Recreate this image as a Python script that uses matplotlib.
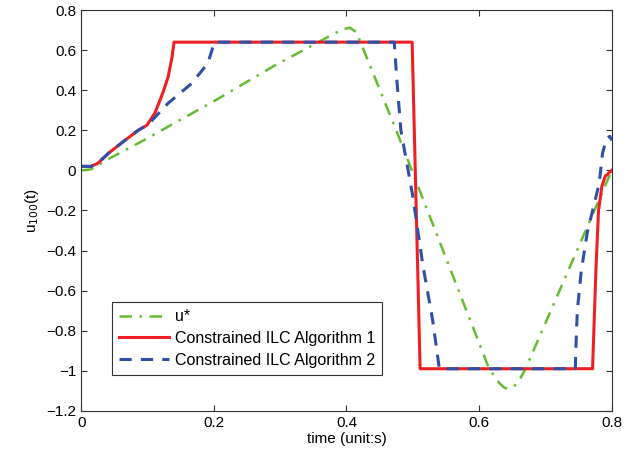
import numpy as np
import matplotlib
matplotlib.use("Agg")
from matplotlib import pyplot as plt

plt.rcParams['font.family'] = ['Liberation Sans', 'DejaVu Sans']

# u* (referencia)
t_ref = [0.0, 0.015, 0.04, 0.10, 0.14, 0.20, 0.29, 0.38, 0.395, 0.405, 0.415,
         0.475, 0.615, 0.63, 0.638, 0.645, 0.652, 0.66, 0.67, 0.80]
u_ref = [0.0, 0.005, 0.055, 0.16, 0.235, 0.345, 0.52, 0.68, 0.705, 0.712, 0.69,
         0.20, -0.99, -1.06, -1.085, -1.09, -1.08, -1.05, -0.99, 0.0]

# Algoritmo 1
t_alg1 = [0.0, 0.015, 0.025, 0.041, 0.066, 0.086, 0.099, 0.111, 0.123, 0.131, 0.137, 0.14,
          0.499, 0.511, 0.771, 0.776, 0.780, 0.785, 0.790, 0.800]
u_alg1 = [0.02, 0.02, 0.035, 0.085, 0.15, 0.20, 0.225, 0.285, 0.385, 0.465, 0.565, 0.64,
          0.64, -0.99, -0.99, -0.50, -0.20, -0.08, -0.03, 0.0]

# Algoritmo 2
t_alg2 = [0.0, 0.015, 0.025, 0.041, 0.066, 0.086, 0.099, 0.107, 0.131, 0.167, 0.191, 0.201,
          0.472, 0.476, 0.482, 0.50, 0.515, 0.53, 0.54,
          0.745, 0.746, 0.748, 0.754, 0.763, 0.781, 0.786, 0.792, 0.797, 0.80]
u_alg2 = [0.02, 0.02, 0.035, 0.085, 0.15, 0.20, 0.225, 0.25, 0.335, 0.435, 0.535, 0.64,
          0.64, 0.45, 0.20, -0.13, -0.47, -0.75, -0.99,
          -0.99, -0.87, -0.70, -0.50, -0.31, -0.065, 0.085, 0.16, 0.17, 0.15]

fig = plt.figure(figsize=(6.34, 4.59), dpi=100)
ax = fig.add_axes([0.128, 0.105, 0.837, 0.873])

ax.plot(t_ref, u_ref, color='#66bb33', linewidth=1.8, dashes=(5, 3, 1, 3), label='u*')
ax.plot(t_alg1, u_alg1, color='#ee2024', linewidth=2.2, label='Constrained ILC Algorithm 1')
ax.plot(t_alg2, u_alg2, color='#3050a8', linewidth=2.2, dashes=(4, 3), label='Constrained ILC Algorithm 2')

ax.set_xlim(0, 0.8)
ax.set_ylim(-1.2, 0.8)
ax.set_xticks([0, 0.2, 0.4, 0.6, 0.8])
ax.set_xticklabels(['0', '0.2', '0.4', '0.6', '0.8'])
ax.set_yticks(np.round(np.arange(-1.2, 0.81, 0.2), 1))
ax.set_yticklabels(['\u22121.2', '\u22121', '\u22120.8', '\u22120.6', '\u22120.4', '\u22120.2',
                    '0', '0.2', '0.4', '0.6', '0.8'])
ax.tick_params(direction='in', top=True, right=True, labelsize=11, length=4, color='#333333')
for s in ax.spines.values():
    s.set_color('#333333')

ax.set_xlabel('time (unit:s)', fontsize=11, labelpad=2)
ax.set_ylabel(r'u$_{100}$(t)', fontsize=11, labelpad=4)

leg = ax.legend(loc='lower left', bbox_to_anchor=(0.058, 0.09), borderaxespad=0, fontsize=11.5,
                fancybox=False, framealpha=1, edgecolor='#333333',
                handlelength=3.1, borderpad=0.45, labelspacing=0.42, handletextpad=0.4)
leg.get_frame().set_linewidth(0.8)

fig.savefig('out.png', dpi=100)
